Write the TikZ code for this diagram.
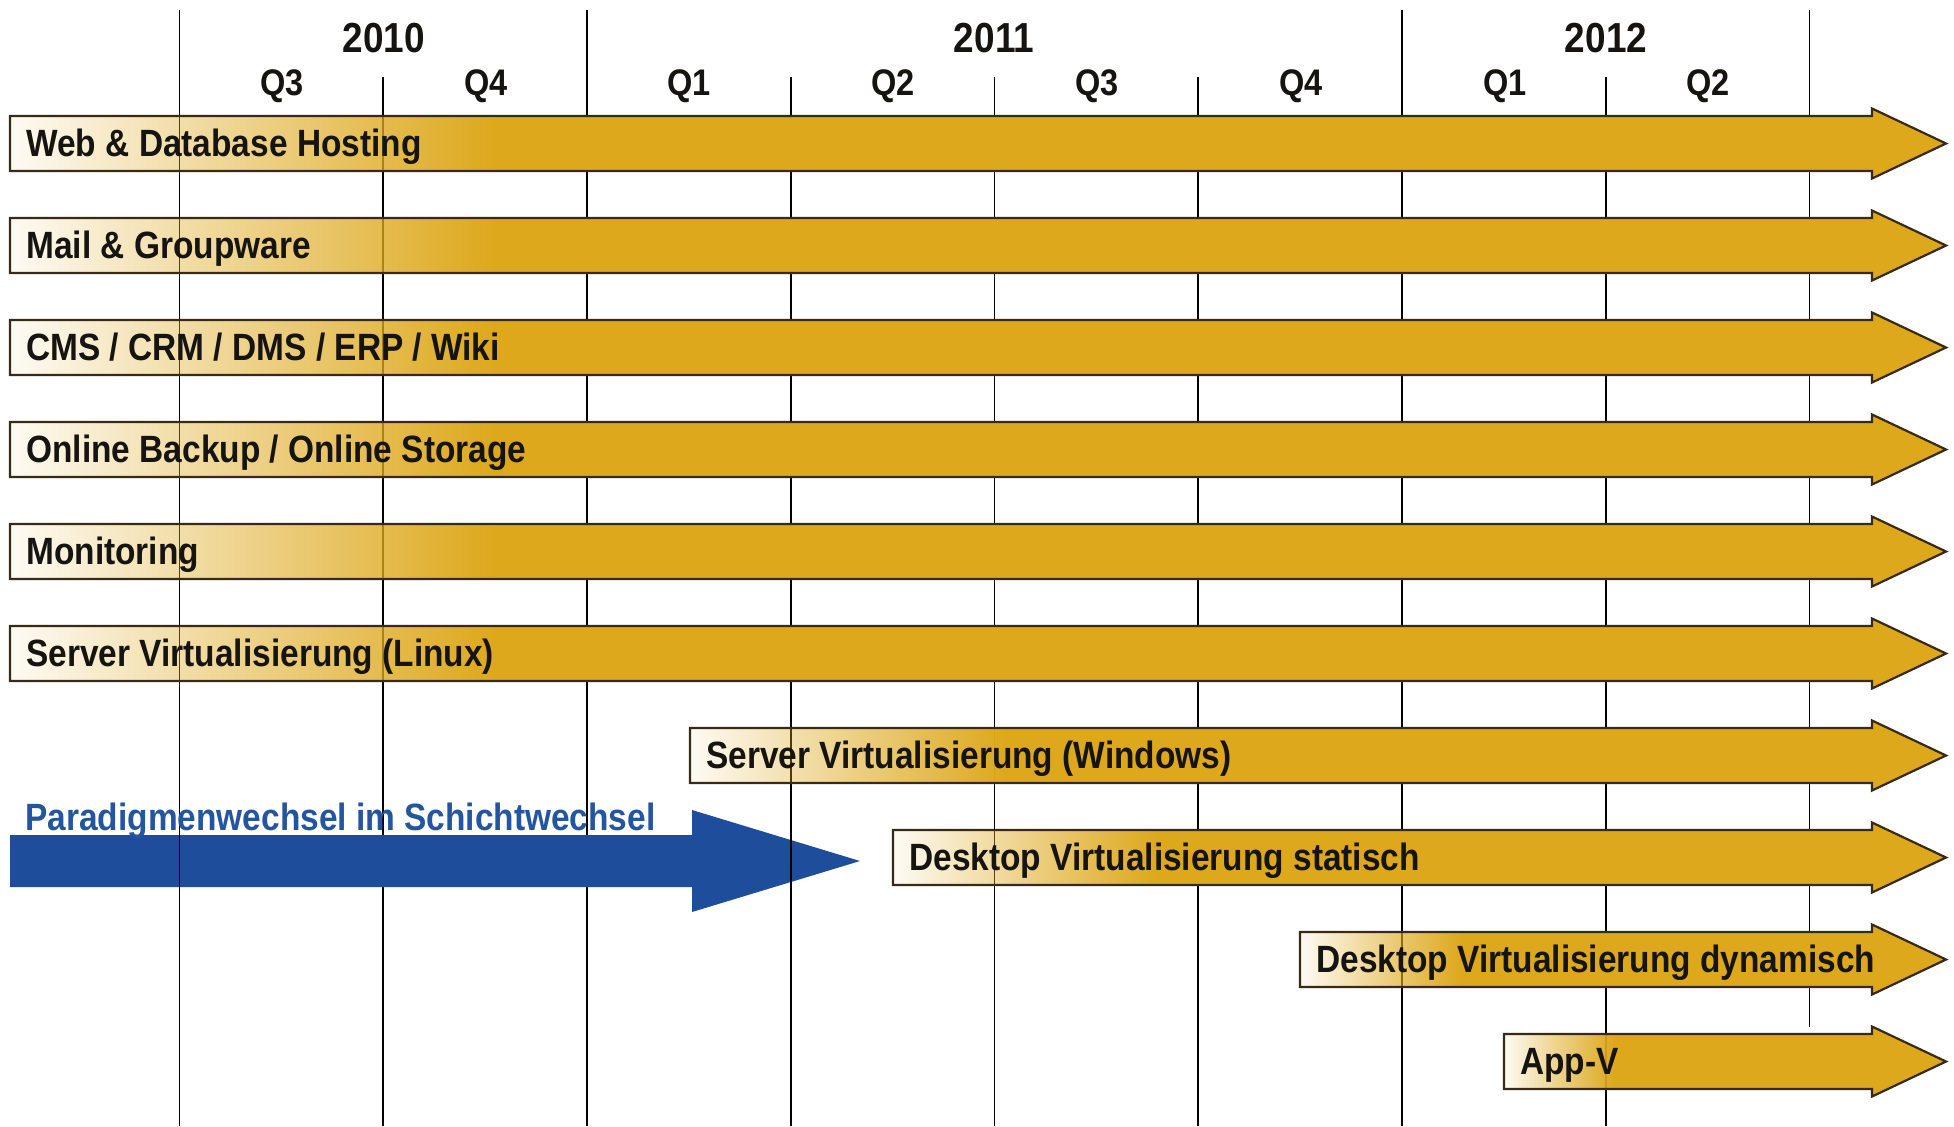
\documentclass[tikz,border=0pt]{standalone}
\usepackage{fontspec}
\newfontfamily\labfont{Liberation Sans}[FakeStretch=0.88]
\definecolor{gold}{RGB}{221,168,28}
\definecolor{barline}{RGB}{55,42,22}
\definecolor{navy}{RGB}{30,77,155}
\definecolor{navytext}{RGB}{36,86,160}
\definecolor{ink}{RGB}{22,20,16}
\tikzset{
  gridline/.style={draw=black, line width=0.8pt},
  barborder/.style={draw=barline, line width=1.1pt, line join=miter},
  bartext/.style={font=\labfont\bfseries\fontsize{19pt}{22pt}\selectfont, text=ink, inner sep=0pt, anchor=base west},
  yeartext/.style={font=\labfont\bfseries\fontsize{21pt}{24pt}\selectfont, text=ink, inner sep=0pt},
  qtext/.style={font=\labfont\bfseries\fontsize{18.5pt}{22pt}\selectfont, text=ink, inner sep=0pt},
  bluetext/.style={font=\labfont\bfseries\fontsize{19pt}{22pt}\selectfont, text=navytext, inner sep=0pt, anchor=base west}
}
\newcommand\goldbar[4]{%
  \pgfmathsetmacro\gx{#2+0.25*(1946-#2)}%
  \shade[left color=gold!5!white, right color=gold] (#2,#3-27.5) rectangle (\gx,#3+27.5);
  \fill[gold] (\gx-0.5,#3-27.5) -- (1872,#3-27.5) -- (1872,#3-35) -- (1946,#3) -- (1872,#3+35) -- (1872,#3+27.5) -- (\gx-0.5,#3+27.5) -- cycle;
  \foreach \i in {0,...,8} {%
    \pgfmathsetmacro\lx{179.5+203.75*\i}%
    \pgfmathtruncatemacro\inside{and(\lx>#2,\lx<\gx)}%
    \ifnum\inside=1
      \pgfmathtruncatemacro\pct{100*(0.05+0.95*(\lx-#2)/(\gx-#2))}%
      \draw[line width=0.8pt, draw=gold!\pct!black] (\lx,#3-27.5) -- (\lx,#3+27.5);
    \fi
  }
  \draw[barborder] (#2,#3-27.5) -- (1872,#3-27.5) -- (1872,#3-35) -- (1946,#3) -- (1872,#3+35) -- (1872,#3+27.5) -- (#2,#3+27.5) -- cycle;
  \node[bartext] (#1) at (#2+16,#3+12.5) {#4};
}
\begin{document}
\begin{tikzpicture}[x=0.5pt,y=-0.5pt]
\fill[white] (0,0) rectangle (1954,1126);
\useasboundingbox (0,0) rectangle (1954,1126);
% grid lines
\foreach \i in {0,2,6} \draw[gridline] (179.5+203.75*\i,10) -- (179.5+203.75*\i,1126);
\draw[gridline] (1809.5,10) -- (1809.5,1027);
\foreach \i in {1,3,4,5,7} \draw[gridline] (179.5+203.75*\i,77) -- (179.5+203.75*\i,1126);
% year labels
\node[yeartext] (y2010) at (384,38.5) {2010};
\node[yeartext] (y2011) at (994,38.5) {2011};
\node[yeartext] (y2012) at (1606,38.5) {2012};
% quarter labels
\node[qtext] (q1) at (282,86) {Q3};
\node[qtext] (q2) at (486,86) {Q4};
\node[qtext] (q3) at (689,86) {Q1};
\node[qtext] (q4) at (893,86) {Q2};
\node[qtext] (q5) at (1097,86) {Q3};
\node[qtext] (q6) at (1301,86) {Q4};
\node[qtext] (q7) at (1505,86) {Q1};
\node[qtext] (q8) at (1708,86) {Q2};
% bars
\goldbar{b0}{10}{143.5}{Web \& Database Hosting}
\goldbar{b1}{10}{245.5}{Mail \& Groupware}
\goldbar{b2}{10}{347.5}{CMS / CRM / DMS / ERP / Wiki}
\goldbar{b3}{10}{449.5}{Online Backup / Online Storage}
\goldbar{b4}{10}{551.5}{Monitoring}
\goldbar{b5}{10}{653.5}{Server Virtualisierung (Linux)}
\goldbar{b6}{690}{755.5}{Server Virtualisierung (Windows)}
\goldbar{b7}{893}{857.5}{Desktop Virtualisierung statisch}
\goldbar{b8}{1300}{959.5}{Desktop Virtualisierung dynamisch}
\goldbar{b9}{1504}{1061.5}{App-V}
% blue arrow
\fill[navy] (10,835) -- (692,835) -- (692,810) -- (860,861) -- (692,912) -- (692,887) -- (10,887) -- cycle;
\draw[gridline] (179.5,835) -- (179.5,887);
\draw[gridline] (790.75,820) -- (790.75,902);
\node[bluetext] (para) at (25,830) {Paradigmenwechsel im Schichtwechsel};
\end{tikzpicture}
\end{document}
